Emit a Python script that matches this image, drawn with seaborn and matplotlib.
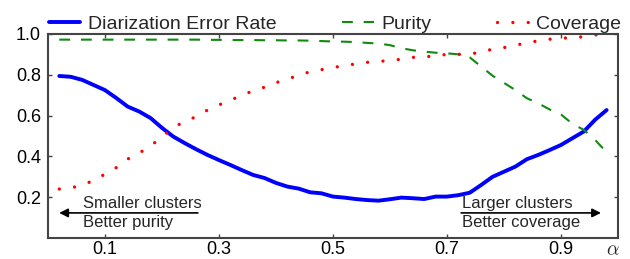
import matplotlib
matplotlib.use("Agg")
import matplotlib.pyplot as plt
import seaborn as sns
import pandas as pd

# alpha values (x axis)
alpha = [0.02, 0.04, 0.06, 0.08, 0.10, 0.12, 0.14, 0.16, 0.18, 0.20,
         0.22, 0.24, 0.26, 0.28, 0.30, 0.32, 0.34, 0.36, 0.38, 0.40,
         0.42, 0.44, 0.46, 0.48, 0.50, 0.52, 0.54, 0.56, 0.58, 0.60,
         0.62, 0.64, 0.66, 0.68, 0.70, 0.72, 0.74, 0.76, 0.78, 0.80,
         0.82, 0.84, 0.86, 0.88, 0.90, 0.92, 0.94, 0.96, 0.98]

der = [0.794, 0.790, 0.775, 0.750, 0.725, 0.686, 0.644, 0.620, 0.588, 0.540,
       0.497, 0.465, 0.435, 0.407, 0.382, 0.358, 0.333, 0.309, 0.294, 0.270,
       0.252, 0.242, 0.224, 0.219, 0.203, 0.198, 0.191, 0.186, 0.183, 0.190,
       0.198, 0.195, 0.191, 0.203, 0.203, 0.210, 0.222, 0.260, 0.300, 0.325,
       0.350, 0.386, 0.407, 0.431, 0.456, 0.489, 0.522, 0.580, 0.627]

purity = [0.972, 0.972, 0.972, 0.972, 0.972, 0.972, 0.972, 0.972, 0.972, 0.972,
          0.972, 0.972, 0.972, 0.971, 0.971, 0.970, 0.970, 0.970, 0.969, 0.969,
          0.968, 0.968, 0.967, 0.965, 0.963, 0.962, 0.960, 0.956, 0.953, 0.945,
          0.930, 0.920, 0.913, 0.908, 0.905, 0.900, 0.885, 0.840, 0.795, 0.760,
          0.725, 0.685, 0.660, 0.630, 0.605, 0.560, 0.530, 0.480, 0.420]

coverage = [0.240, 0.245, 0.260, 0.281, 0.313, 0.345, 0.387, 0.416, 0.451, 0.495,
            0.543, 0.570, 0.595, 0.627, 0.652, 0.676, 0.698, 0.722, 0.739, 0.761,
            0.779, 0.797, 0.815, 0.825, 0.835, 0.845, 0.853, 0.861, 0.865, 0.870,
            0.876, 0.885, 0.888, 0.892, 0.900, 0.900, 0.900, 0.913, 0.925, 0.933,
            0.946, 0.954, 0.967, 0.974, 0.980, 0.980, 0.987, 0.995, 1.000]

xticks = [0.1, 0.3, 0.5, 0.7, 0.9]
yticks = [0.2, 0.4, 0.6, 0.8, 1.0]

sns.set_style("ticks")
plt.rcParams['font.family'] = ['Liberation Sans', 'DejaVu Sans']
plt.rcParams['mathtext.fontset'] = 'cm'

df = pd.DataFrame({"alpha": alpha, "der": der, "purity": purity, "coverage": coverage})

fig = plt.figure(figsize=(6.3, 2.59), dpi=100)
ax = fig.add_axes([0.076, 0.081, 0.905, 0.788])

sns.lineplot(data=df, x="alpha", y="der", ax=ax, color="#0000ff", linewidth=2.8,
             label="Diarization Error Rate")
sns.lineplot(data=df, x="alpha", y="purity", ax=ax, color="#118a11", linewidth=1.5,
             label="Purity")
sns.lineplot(data=df, x="alpha", y="coverage", ax=ax, color="#ff0000", linewidth=2.4,
             label="Coverage")
lines = ax.get_lines()
lines[1].set_dashes([5.2, 5.2])
lines[2].set_dashes([0.01, 4.6])
lines[2].set_dash_capstyle("round")

ax.set_xlim(0, 1)
ax.set_ylim(0, 1)
ax.set_xticks(xticks)
ax.set_xticklabels([f"{t:.1f}" for t in xticks])
ax.set_yticks(yticks)
ax.set_yticklabels([f"{t:.1f}" for t in yticks])
ax.set_xlabel("")
ax.set_ylabel("")
ax.tick_params(direction="in", length=3, width=1, colors="#444444",
               labelcolor="black", labelsize=13, top=True, right=True)
ax.tick_params(axis="x", pad=2)
ax.tick_params(axis="y", pad=5)
for s in ax.spines.values():
    s.set_color("#444444")
    s.set_linewidth(1.5)

ax.text(0.99, -0.06, r"$\alpha$", transform=ax.transAxes, fontsize=14,
        ha="center", va="center")

ax.annotate("", xy=(0.015, 0.123), xytext=(0.268, 0.123),
            arrowprops=dict(arrowstyle="-|>", color="black", lw=1.2,
                            mutation_scale=13))
ax.text(0.061, 0.167, "Smaller clusters", fontsize=12, va="center")
ax.text(0.061, 0.075, "Better purity", fontsize=12, va="center")
ax.annotate("", xy=(0.975, 0.123), xytext=(0.72, 0.123),
            arrowprops=dict(arrowstyle="-|>", color="black", lw=1.2,
                            mutation_scale=13))
ax.text(0.726, 0.167, "Larger clusters", fontsize=12, va="center")
ax.text(0.726, 0.075, "Better coverage", fontsize=12, va="center")

ax.legend(loc="lower left", bbox_to_anchor=(0.0, 1.0), ncol=3, frameon=False,
          fontsize=14, handlelength=1.6, columnspacing=3.4, handletextpad=0.4,
          borderaxespad=0, borderpad=0.05)

plt.savefig("out.png", dpi=100)
